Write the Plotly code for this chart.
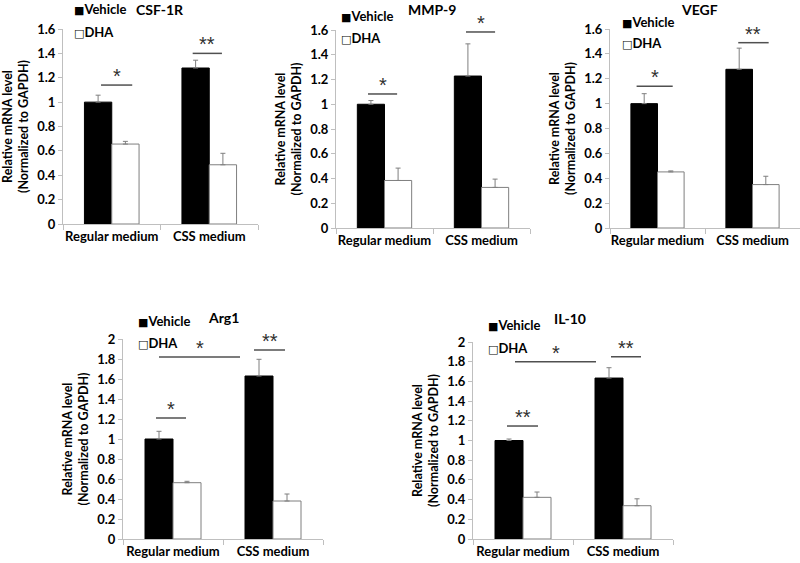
import plotly.graph_objects as go

# ---------------- data ----------------
categories = ["Regular medium", "CSS medium"]
series_names = ["Vehicle", "DHA"]

csf1r_vehicle = [1.00, 1.28]
csf1r_vehicle_err = [0.057, 0.064]
csf1r_dha = [0.656, 0.486]
csf1r_dha_err = [0.022, 0.094]

mmp9_vehicle = [1.00, 1.228]
mmp9_vehicle_err = [0.03, 0.26]
mmp9_dha = [0.384, 0.328]
mmp9_dha_err = [0.10, 0.067]

vegf_vehicle = [1.00, 1.276]
vegf_vehicle_err = [0.08, 0.17]
vegf_dha = [0.451, 0.349]
vegf_dha_err = [0.008, 0.067]

arg1_vehicle = [1.00, 1.63]
arg1_vehicle_err = [0.077, 0.167]
arg1_dha = [0.563, 0.38]
arg1_dha_err = [0.014, 0.07]

il10_vehicle = [1.00, 1.634]
il10_vehicle_err = [0.015, 0.105]
il10_dha = [0.423, 0.338]
il10_dha_err = [0.054, 0.07]

ticks_top = [0, 0.2, 0.4, 0.6, 0.8, 1.0, 1.2, 1.4, 1.6]
ticktext_top = ["0", "0.2", "0.4", "0.6", "0.8", "1", "1.2", "1.4", "1.6"]
ticks_bottom = [0, 0.2, 0.4, 0.6, 0.8, 1.0, 1.2, 1.4, 1.6, 1.8, 2.0]
ticktext_bottom = ["0", "0.2", "0.4", "0.6", "0.8", "1", "1.2", "1.4", "1.6", "1.8", "2"]

# significance brackets: (x0, x1, y, label) in category units
csf1r_sig = [(-0.11, 0.21, 1.14, "*"), (0.83, 1.13, 1.40, "**")]
mmp9_sig = [(-0.17, 0.13, 1.083, "*"), (0.84, 1.14, 1.584, "*")]
vegf_sig = [(-0.22, 0.16, 1.14, "*"), (0.85, 1.17, 1.49, "**")]
arg1_sig = [(-0.17, 0.13, 1.21, "*"), (-0.14, 0.67, 1.82, "*"), (0.81, 1.12, 1.89, "**")]
il10_sig = [(-0.16, 0.15, 1.147, "**"), (-0.08, 0.73, 1.80, "*"), (0.88, 1.18, 1.85, "**")]

# ---------------- layout geometry (pixels) ----------------
W, H = 800, 563
FONT = "Lato"

panels = [
    dict(gene="CSF-1R", veh=csf1r_vehicle, veh_err=csf1r_vehicle_err, dha=csf1r_dha, dha_err=csf1r_dha_err,
         sig=csf1r_sig, box=(63, 258, 29, 224), yr=1.6, tv=ticks_top, tt=ticktext_top,
         title=(160, 9), leg=(72, 9, 32)),
    dict(gene="MMP-9", veh=mmp9_vehicle, veh_err=mmp9_vehicle_err, dha=mmp9_dha, dha_err=mmp9_dha_err,
         sig=mmp9_sig, box=(336, 530, 30, 228), yr=1.6, tv=ticks_top, tt=ticktext_top,
         title=(432, 10), leg=(339, 16, 38)),
    dict(gene="VEGF", veh=vegf_vehicle, veh_err=vegf_vehicle_err, dha=vegf_dha, dha_err=vegf_dha_err,
         sig=vegf_sig, box=(610, 800, 29, 228), yr=1.6, tv=ticks_top, tt=ticktext_top,
         title=(699, 9), leg=(620, 22, 43)),
    dict(gene="Arg1", veh=arg1_vehicle, veh_err=arg1_vehicle_err, dha=arg1_dha, dha_err=arg1_dha_err,
         sig=arg1_sig, box=(123, 323, 339, 539), yr=2.0, tv=ticks_bottom, tt=ticktext_bottom,
         title=(223, 317), leg=(136, 321, 343)),
    dict(gene="IL-10", veh=il10_vehicle, veh_err=il10_vehicle_err, dha=il10_dha, dha_err=il10_dha_err,
         sig=il10_sig, box=(473, 673, 342, 539), yr=2.0, tv=ticks_bottom, tt=ticktext_bottom,
         title=(570, 318), leg=(486, 325, 348)),
]

fig = go.Figure()
annotations = []
shapes = []
layout_axes = {}

AXIS_GRAY = "#bfbfbf"
ERR_GRAY = "#7f7f7f"
SIG_GRAY = "#505050"

for i, p in enumerate(panels):
    n = "" if i == 0 else str(i + 1)
    xa, ya = "x" + n, "y" + n
    x0, x1, yt, yb = p["box"]

    fig.add_trace(go.Bar(
        x=categories, y=p["veh"], name=series_names[0], xaxis=xa, yaxis=ya,
        marker=dict(color="black", line=dict(color="black", width=1)),
        error_y=dict(type="data", array=p["veh_err"], arrayminus=[0] * len(p["veh_err"]),
                     symmetric=False, color=ERR_GRAY, thickness=1, width=2.5),
        showlegend=False,
    ))
    fig.add_trace(go.Bar(
        x=categories, y=p["dha"], name=series_names[1], xaxis=xa, yaxis=ya,
        marker=dict(color="white", line=dict(color=ERR_GRAY, width=1)),
        error_y=dict(type="data", array=p["dha_err"], arrayminus=[0] * len(p["dha_err"]),
                     symmetric=False, color=ERR_GRAY, thickness=1, width=2.5),
        showlegend=False,
    ))

    layout_axes["xaxis" + n] = dict(
        domain=[x0 / W, x1 / W], anchor=ya, type="category", range=[-0.5, 1.5],
        showline=True, linecolor=AXIS_GRAY, linewidth=1,
        ticks="outside", tickson="boundaries", ticklen=5, tickcolor=AXIS_GRAY,
        tickangle=0, automargin=False,
        tickfont=dict(family=FONT, size=13, color="black", weight="bold"),
        showgrid=False, zeroline=False, fixedrange=True,
    )
    layout_axes["yaxis" + n] = dict(
        domain=[1 - yb / H, 1 - yt / H], anchor=xa, range=[0, p["yr"]],
        tickvals=p["tv"], ticktext=p["tt"], automargin=False,
        showline=True, linecolor=AXIS_GRAY, linewidth=1,
        ticks="outside", ticklen=4, tickcolor=AXIS_GRAY,
        tickfont=dict(family=FONT, size=13, color="black", weight="bold"),
        showgrid=False, zeroline=False, fixedrange=True,
        title=dict(text="Relative mRNA level<br>(Normalized to GAPDH)",
                   font=dict(family=FONT, size=12.5, color="black", weight="bold"),
                   standoff=5),
    )

    annotations.append(dict(
        text=p["gene"], x=p["title"][0] / W, y=1 - p["title"][1] / H, xref="paper", yref="paper",
        xanchor="center", yanchor="middle", showarrow=False,
        font=dict(family=FONT, size=14, color="black", weight="bold"),
    ))
    lx, lyv, lyd = p["leg"]
    for label, sym, ly in [(series_names[0], "\u25A0", lyv), (series_names[1], "\u25A1", lyd)]:
        annotations.append(dict(
            text=f"<span style='font-family:DejaVu Sans;font-size:11px'>{sym}</span>{label}",
            x=lx / W, y=1 - ly / H, xref="paper", yref="paper",
            xanchor="left", yanchor="middle", showarrow=False,
            font=dict(family=FONT, size=13, color="black", weight="bold"),
        ))
    for sx0, sx1, sy, lab in p["sig"]:
        shapes.append(dict(type="line", xref=xa, yref=ya, x0=sx0, x1=sx1, y0=sy, y1=sy,
                           line=dict(color=SIG_GRAY, width=1.5)))
        annotations.append(dict(
            text=lab, x=(sx0 + sx1) / 2, y=sy, xref=xa, yref=ya,
            xanchor="center", yanchor="bottom", yshift=-4, showarrow=False,
            font=dict(family="Liberation Sans", size=20, color="#303030"),
        ))

fig.update_layout(
    width=W, height=H, margin=dict(l=0, r=0, t=0, b=0, autoexpand=False),
    paper_bgcolor="white", plot_bgcolor="white",
    barmode="group", bargap=0.44, bargroupgap=0,
    annotations=annotations, shapes=shapes,
    font=dict(family=FONT, color="black"),
    **layout_axes,
)

fig.write_html("out.html", config={"displayModeBar": False},
               post_script="document.body.style.margin='0';")
